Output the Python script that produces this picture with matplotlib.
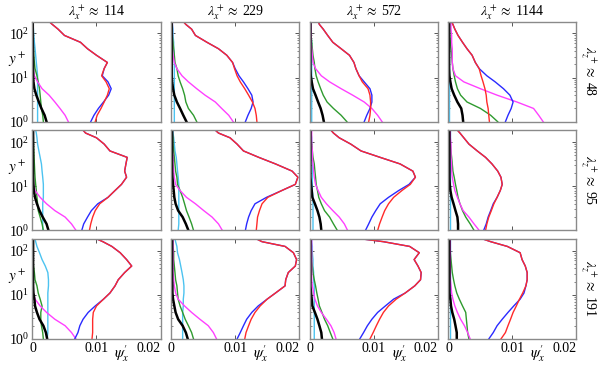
import matplotlib
matplotlib.use('Agg')
import matplotlib.pyplot as plt

plt.rcParams['font.family'] = ['Liberation Serif', 'DejaVu Serif']
plt.rcParams['mathtext.fontset'] = 'stix'

# wall-normal positions (y+) shared by all profiles
y_plus = [1, 1.4, 2, 2.8, 4, 5.6, 8, 11, 16, 22, 32, 45, 63, 90, 125, 160, 186]

lambda_x = ['114', '229', '572', '1144']
lambda_z = ['48', '95', '191']
x_ticks = [0, 0.01, 0.02]
x_tick_labels = ['0', '0.01', '0.02']

# ---- row 1 (lambda_z ~ 48), one sub-list per column ----
red_row1 = [
    [.0098, .0101, .0107, .0112, .0117, .0120, .0115, .0108, .0112, .0117, .0100, .0086, .0075, .0050, .0040, .0031, .0026],
    [.0134, .0133, .0131, .0127, .0121, .0115, .0108, .0103, .0099, .0096, .0087, .0074, .0056, .0038, .0032, .0023, .0019],
    [.0092, .0094, .0095, .0095, .0094, .0091, .0082, .0077, .0072, .0069, .0062, .0049, .0036, .0028, .0021, .0015, .0013],
    [.0064, .0063, .0062, .0060, .0059, .0057, .0054, .0051, .0048, .0042, .0037, .0029, .0022, .0015, .0010, .0007, .0005],
]
blue_row1 = [
    [.0091, .0096, .0103, .0111, .0119, .0123, .0118, .0109, .0112, .0117, .0100, .0086, .0075, .0050, .0040, .0031, .0026],
    [.0116, .0120, .0125, .0128, .0126, .0120, .0113, .0106, .0100, .0096, .0087, .0074, .0056, .0038, .0032, .0023, .0019],
    [.0085, .0089, .0094, .0097, .0097, .0094, .0085, .0077, .0072, .0069, .0062, .0049, .0036, .0028, .0021, .0015, .0013],
    [.0089, .0093, .0098, .0101, .0096, .0086, .0073, .0060, .0048, .0042, .0037, .0029, .0022, .0015, .0010, .0007, .0005],
]
green_row1 = [
    [.0017, .0016, .0014, .0013, .0012, .0011, .0009, .0007, .0004, .0003, .0002, .00015, .0001, .0001, .0001, .0001, .0001],
    [.0040, .0035, .0027, .0023, .0021, .0018, .0014, .0011, .0009, .0006, .0005, .0004, .0003, .0002, .00015, .0001, .0001],
    [.0058, .0049, .0037, .0027, .0021, .0017, .0013, .0010, .0008, .0007, .0005, .0004, .0003, .0002, .0002, .0002, .0002],
    [.0077, .0066, .0050, .0029, .0019, .0014, .0011, .0009, .0007, .0006, .0005, .0004, .0003, .0002, .0002, .0002, .0002],
]
magenta_row1 = [
    [.0056, .0051, .0043, .0035, .0026, .0015, .0008, .0003, .00012, .0001, .0001, .0001, .0001, .0001, .0001, .0001, .0001],
    [.0097, .0090, .0079, .0069, .0053, .0040, .0027, .0017, .0009, .0005, .0003, .0002, .0002, .0002, .0002, .0002, .0002],
    [.0113, .0106, .0097, .0085, .0067, .0049, .0031, .0018, .0009, .0005, .0004, .0003, .0002, .0002, .0002, .0002, .0002],
    [.0148, .0141, .0133, .0107, .0076, .0050, .0024, .0011, .0007, .0006, .0006, .0006, .0005, .0005, .0004, .0004, .0004],
]
black_row1 = [
    [.0022, .0019, .0014, .0010, .0006, .0003, .00015, .0001, .0001, .0001, .00008, .00008, .00006, .00006, .00005, .00005, .00005],
    [.0024, .0019, .0014, .0009, .0005, .0003, .00015, .0001, .0001, .0001, .0001, .0001, .0001, .0001, .0001, .0001, .0001],
    [.0022, .0020, .0017, .0013, .0009, .0005, .0003, .00015, .0001, .0001, .0001, .0001, .0001, .0001, .0001, .0001, .0001],
    [.0023, .0022, .0020, .0014, .0009, .0005, .0003, .00015, .0001, .0001, .0001, .0001, .0001, .0001, .0001, .0001, .0001],
]
cyan_row1 = [
    [.0008, .0008, .0008, .0008, .0008, .0008, .0008, .0008, .0007, .0006, .0005, .0004, .0003, .0002, .00015, .0001, .0001],
    [.0005, .0005, .0005, .0005, .0005, .0005, .0005, .0005, .0005, .0005, .0005, .0004, .0004, .0003, .0003, .0002, .0002],
    [.0003, .0003, .0003, .0003, .0003, .0003, .0003, .0003, .0003, .0003, .0003, .0003, .0003, .0002, .0002, .0002, .0002],
    [.00015, .00015, .00015, .00015, .00015, .00015, .00015, .00015, .00015, .00015, .00015, .00015, .00015, .00015, .00015, .00015, .00015],
]

# ---- row 2 (lambda_z ~ 95) ----
red_row2 = [
    [.0089, .0091, .0094, .0098, .0105, .0118, .0129, .0139, .0147, .0144, .0146, .0148, .0121, .0112, .0100, .0083, .0079],
    [.0133, .0134, .0135, .0138, .0142, .0151, .0173, .0194, .0198, .0189, .0163, .0137, .0113, .0103, .0092, .0074, .0069],
    [.0106, .0109, .0113, .0117, .0123, .0131, .0144, .0157, .0165, .0161, .0141, .0110, .0080, .0064, .0046, .0037, .0033],
    [.0058, .0060, .0063, .0067, .0071, .0076, .0081, .0084, .0082, .0077, .0068, .0058, .0045, .0032, .0024, .0018, .0014],
]
blue_row2 = [
    [.0077, .0080, .0086, .0092, .0102, .0118, .0129, .0139, .0147, .0144, .0146, .0148, .0121, .0112, .0100, .0083, .0079],
    [.0116, .0118, .0121, .0125, .0131, .0149, .0173, .0194, .0198, .0189, .0163, .0137, .0113, .0103, .0092, .0074, .0069],
    [.0087, .0092, .0097, .0103, .0110, .0123, .0139, .0155, .0165, .0161, .0141, .0110, .0080, .0064, .0046, .0037, .0033],
    [.0055, .0059, .0062, .0066, .0070, .0076, .0081, .0084, .0082, .0077, .0068, .0058, .0045, .0032, .0024, .0018, .0014],
]
green_row2 = [
    [.0017, .0015, .0012, .0009, .0008, .0007, .0006, .0005, .0004, .00035, .0003, .00025, .0002, .00015, .00015, .0001, .0001],
    [.0035, .0032, .0028, .0024, .0021, .0018, .0014, .0010, .0009, .0007, .0006, .0005, .0004, .0003, .0003, .0002, .0002],
    [.0043, .0037, .0031, .0023, .0018, .0014, .0012, .0010, .0009, .0008, .0007, .0005, .0004, .0003, .0002, .0002, .0002],
    [.0040, .0034, .0027, .0022, .0018, .0015, .0013, .0011, .0009, .0007, .0006, .0005, .0004, .0003, .0002, .0002, .0002],
]
magenta_row2 = [
    [.0068, .0061, .0051, .0035, .0022, .0012, .0004, .00015, .0001, .0001, .0001, .0001, .0001, .0001, .0001, .0001, .0001],
    [.0080, .0074, .0064, .0051, .0038, .0024, .0014, .0007, .0005, .0004, .0003, .0003, .0002, .0002, .0002, .0002, .0002],
    [.0059, .0054, .0046, .0036, .0026, .0018, .0013, .0009, .0007, .0006, .0005, .0004, .0004, .0003, .0003, .0003, .0003],
    [.0048, .0040, .0032, .0023, .0018, .0014, .0010, .0008, .0006, .0005, .0005, .0004, .0004, .0004, .0003, .0003, .0003],
]
black_row2 = [
    [.0025, .0022, .0016, .0011, .0007, .0004, .0002, .00015, .0001, .0001, .0001, .0001, .0001, .0001, .0001, .0001, .0001],
    [.0027, .0023, .0018, .0011, .0007, .0005, .0004, .0003, .0002, .00015, .00015, .00015, .00015, .00015, .00015, .00015, .00015],
    [.0018, .0017, .0015, .0012, .0008, .0004, .0003, .0002, .0001, .0001, .0001, .0001, .0001, .0001, .0001, .0001, .0001],
    [.0015, .0015, .0014, .0011, .0008, .0005, .0003, .0002, .00015, .00015, .00015, .00015, .00015, .00015, .00015, .00015, .00015],
]
cyan_row2 = [
    [.0016, .0016, .0016, .0016, .0016, .0017, .0017, .0017, .0016, .0015, .0014, .0012, .0010, .0008, .0007, .0006, .0005],
    [.0011, .0012, .0012, .0012, .0012, .0012, .0012, .0012, .0011, .0010, .0009, .0008, .0006, .0005, .0004, .0003, .0003],
    [.0005, .0005, .0005, .0005, .0005, .0005, .0004, .0004, .0004, .0004, .0004, .0003, .0003, .0003, .0003, .0002, .0002],
    [.0002, .0002, .0002, .0002, .0002, .0002, .0002, .0002, .0002, .0002, .0002, .0002, .0002, .0002, .0002, .0002, .0002],
]

# ---- row 3 (lambda_z ~ 191) ----
red_row3 = [
    [.0093, .0094, .0094, .0094, .0095, .0100, .0111, .0121, .0129, .0134, .0144, .0155, .0147, .0137, .0124, .0110, .0100],
    [.0115, .0117, .0121, .0125, .0131, .0139, .0150, .0163, .0178, .0179, .0183, .0194, .0196, .0191, .0178, .0142, .0133],
    [.0094, .0099, .0104, .0109, .0115, .0123, .0135, .0149, .0164, .0173, .0174, .0169, .0163, .0171, .0156, .0115, .0080],
    [.0082, .0089, .0093, .0097, .0101, .0106, .0111, .0116, .0121, .0123, .0123, .0120, .0115, .0112, .0092, .0066, .0053],
]
blue_row3 = [
    [.0066, .0071, .0074, .0079, .0087, .0098, .0111, .0121, .0129, .0134, .0144, .0155, .0147, .0137, .0124, .0110, .0100],
    [.0103, .0108, .0113, .0118, .0126, .0136, .0150, .0163, .0178, .0179, .0183, .0194, .0196, .0191, .0178, .0142, .0133],
    [.0078, .0084, .0090, .0097, .0106, .0118, .0131, .0149, .0164, .0173, .0174, .0169, .0163, .0171, .0156, .0115, .0080],
    [.0063, .0070, .0076, .0084, .0093, .0102, .0112, .0118, .0121, .0123, .0123, .0120, .0115, .0112, .0092, .0066, .0053],
]
green_row3 = [
    [.0017, .0016, .0014, .0013, .0013, .0015, .0012, .0009, .0007, .0004, .0003, .00015, .0001, .0001, .0001, .0001, .0001],
    [.0035, .0032, .0027, .0022, .0018, .0014, .0011, .0010, .0009, .0007, .0006, .0005, .0004, .0004, .0003, .0003, .0003],
    [.0036, .0032, .0028, .0023, .0019, .0015, .0013, .0011, .0009, .0007, .0005, .0004, .0003, .0003, .0002, .0002, .0002],
    [.0032, .0030, .0029, .0028, .0027, .0022, .0017, .0013, .0010, .0008, .0006, .0005, .0004, .0003, .0002, .0002, .0002],
]
magenta_row3 = [
    [.0068, .0061, .0051, .0035, .0022, .0012, .0004, .00015, .0001, .0001, .0001, .0001, .0001, .0001, .0001, .0001, .0001],
    [.0071, .0066, .0058, .0045, .0032, .0021, .0011, .0007, .0005, .0004, .0003, .0003, .0003, .0003, .0003, .0003, .0003],
    [.0041, .0038, .0033, .0026, .0018, .0012, .0008, .0006, .0004, .0003, .0003, .0003, .0003, .0003, .0003, .0003, .0003],
    [.0034, .0030, .0025, .0019, .0014, .0010, .0007, .0005, .0004, .0003, .0003, .0003, .0003, .0003, .0003, .0003, .0003],
]
black_row3 = [
    [.0023, .0021, .0017, .0011, .0007, .0004, .0003, .00015, .0001, .0001, .0001, .0001, .0001, .0001, .0001, .0001, .0001],
    [.0026, .0023, .0018, .0011, .0007, .0005, .0003, .0002, .0002, .00015, .00015, .00015, .00015, .00015, .00015, .00015, .00015],
    [.0019, .0018, .0015, .0012, .0008, .0004, .0003, .0002, .0001, .0001, .0001, .0001, .0001, .0001, .0001, .0001, .0001],
    [.0013, .0013, .0011, .0009, .0006, .0004, .0003, .00015, .00015, .00015, .00015, .00015, .00015, .00015, .00015, .00015, .00015],
]
cyan_row3 = [
    [.0023, .0024, .0024, .0024, .0024, .0024, .0024, .0024, .0025, .0025, .0024, .0020, .0015, .0011, .0007, .0005, .0004],
    [.0018, .0018, .0018, .0018, .0018, .0019, .0019, .0020, .0020, .0019, .0017, .0015, .0013, .0010, .0009, .0007, .0006],
    [.0007, .0007, .0007, .0007, .0007, .0007, .0007, .0007, .0007, .0006, .0006, .0005, .0005, .0004, .0004, .0003, .0003],
    [.0002, .0002, .0002, .0002, .0002, .0002, .0002, .0002, .0002, .0002, .0002, .0002, .0002, .0002, .0002, .0002, .0002],
]

rows = [
    dict(red=red_row1, blue=blue_row1, green=green_row1, magenta=magenta_row1, black=black_row1, cyan=cyan_row1),
    dict(red=red_row2, blue=blue_row2, green=green_row2, magenta=magenta_row2, black=black_row2, cyan=cyan_row2),
    dict(red=red_row3, blue=blue_row3, green=green_row3, magenta=magenta_row3, black=black_row3, cyan=cyan_row3),
]

styles = [
    ('cyan', '#4cc3f0', 1.0),
    ('green', '#2e9a2e', 1.0),
    ('magenta', '#ff40ff', 1.0),
    ('black', '#000000', 1.8),
    ('blue', '#2a2aff', 1.0),
    ('red', '#ff2a2a', 1.0),
]

fig, axes = plt.subplots(3, 4, figsize=(5.98, 3.65), dpi=100)
fig.subplots_adjust(left=0.0543, right=0.964, top=0.941, bottom=0.0712,
                    wspace=0.083, hspace=0.084)

spine_col = '#8a8a8a'
for r in range(3):
    for c in range(4):
        ax = axes[r, c]
        for key, col, lw in styles:
            ax.plot(rows[r][key][c], y_plus, color=col, lw=lw)
        ax.set_yscale('log')
        ax.set_ylim(1, 186)
        ax.set_xlim(0, 0.02)
        ax.set_xticks(x_ticks)
        ax.set_yticks([1, 10, 100])
        for sp in ax.spines.values():
            sp.set_color(spine_col)
            sp.set_linewidth(1.0)
        ax.tick_params(which='both', direction='in', top=True, right=True,
                       color='#555555', labelsize=10, pad=2)
        ax.tick_params(which='major', length=3, width=0.7)
        ax.tick_params(which='minor', length=1.5, width=0.5)
        if r == 2:
            ax.set_xticklabels(x_tick_labels)
            ax.get_xticklabels()[-1].set_horizontalalignment('right')
            ax.set_xlabel(r"$\psi_x'$", fontsize=11)
            ax.xaxis.set_label_coords(0.7, -0.045)
        else:
            ax.set_xticklabels([])
        if c == 0:
            ax.set_ylabel(r'$y^+$', rotation=0, fontsize=11, ha='center', va='center')
            ax.yaxis.set_label_coords(-0.12, 0.62)
        else:
            ax.set_yticklabels([])
            ax.yaxis.set_minor_formatter(plt.NullFormatter())
        if r == 0:
            ax.set_title(r'$\lambda_x^+ \approx$ ' + lambda_x[c], fontsize=10, pad=3)
        if c == 3:
            ax.text(1.1, 0.5, r'$\lambda_z^+ \approx$ ' + lambda_z[r], rotation=270,
                    transform=ax.transAxes, ha='center', va='center', fontsize=10)

fig.savefig('out.png', dpi=100)
